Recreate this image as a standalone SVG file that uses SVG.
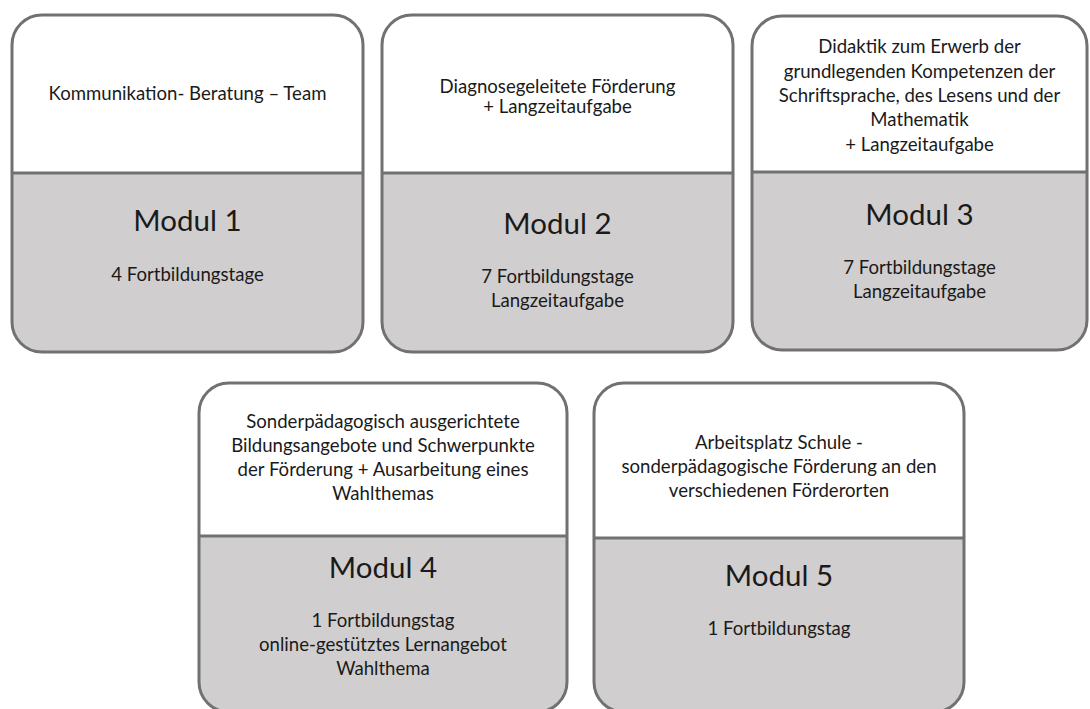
<svg xmlns="http://www.w3.org/2000/svg" width="1090" height="709" viewBox="0 0 1090 709">
<style>
.top{fill:#ffffff;}
.bot{fill:#d0cece;}
.frame{fill:none;stroke:#717171;stroke-width:3;}
.div{stroke:#717171;stroke-width:3;}
text{font-family:Lato,"Liberation Sans",sans-serif;fill:#1a1a1a;text-anchor:middle;}
.t{font-size:18.6px;}
.m{font-size:29.5px;}
</style>
<rect width="1090" height="709" fill="#ffffff"/>
<g id="connectors"></g>
<g id="modul1">
<path class="top" d="M12,173 V45 A30,30 0 0 1 42,15 H333 A30,30 0 0 1 363,45 V173 Z"/>
<path class="bot" d="M12,173 H363 V322 A30,30 0 0 1 333,352 H42 A30,30 0 0 1 12,322 Z"/>
<rect class="frame" x="12" y="15" width="351" height="337" rx="30"/>
<line class="div" x1="12" y1="173" x2="363" y2="173"/>
<text class="t" x="187.5" y="100">Kommunikation- Beratung – Team</text>
<text class="m" x="187.5" y="231">Modul 1</text>
<text class="t" x="187.5" y="281">4 Fortbildungstage</text>
</g>
<g id="modul2">
<path class="top" d="M382,173 V45 A30,30 0 0 1 412,15 H703 A30,30 0 0 1 733,45 V173 Z"/>
<path class="bot" d="M382,173 H733 V322 A30,30 0 0 1 703,352 H412 A30,30 0 0 1 382,322 Z"/>
<rect class="frame" x="382" y="15" width="351" height="337" rx="30"/>
<line class="div" x1="382" y1="173" x2="733" y2="173"/>
<text class="t" x="557.5" y="93">Diagnosegeleitete Förderung</text>
<text class="t" x="557.5" y="113">+ Langzeitaufgabe</text>
<text class="m" x="557.5" y="234">Modul 2</text>
<text class="t" x="557.5" y="283">7 Fortbildungstage</text>
<text class="t" x="557.5" y="307">Langzeitaufgabe</text>
</g>
<g id="modul3">
<path class="top" d="M752,172 V46 A30,30 0 0 1 782,16 H1057 A30,30 0 0 1 1087,46 V172 Z"/>
<path class="bot" d="M752,172 H1087 V320 A30,30 0 0 1 1057,350 H782 A30,30 0 0 1 752,320 Z"/>
<rect class="frame" x="752" y="16" width="335" height="334" rx="30"/>
<line class="div" x1="752" y1="172" x2="1087" y2="172"/>
<text class="t" x="919.5" y="53">Didaktik zum Erwerb der</text>
<text class="t" x="919.5" y="78">grundlegenden Kompetenzen der</text>
<text class="t" x="919.5" y="102">Schriftsprache, des Lesens und der</text>
<text class="t" x="919.5" y="126">Mathematik</text>
<text class="t" x="919.5" y="151">+ Langzeitaufgabe</text>
<text class="m" x="919.5" y="225">Modul 3</text>
<text class="t" x="919.5" y="274">7 Fortbildungstage</text>
<text class="t" x="919.5" y="298">Langzeitaufgabe</text>
</g>
<g id="modul4">
<path class="top" d="M199,536 V413 A30,30 0 0 1 229,383 H537 A30,30 0 0 1 567,413 V536 Z"/>
<path class="bot" d="M199,536 H567 V682 A30,30 0 0 1 537,712 H229 A30,30 0 0 1 199,682 Z"/>
<rect class="frame" x="199" y="383" width="368" height="329" rx="30"/>
<line class="div" x1="199" y1="536" x2="567" y2="536"/>
<text class="t" x="383" y="428">Sonderpädagogisch ausgerichtete</text>
<text class="t" x="383" y="452">Bildungsangebote und Schwerpunkte</text>
<text class="t" x="383" y="476">der Förderung + Ausarbeitung eines</text>
<text class="t" x="383" y="500">Wahlthemas</text>
<text class="m" x="383" y="578">Modul 4</text>
<text class="t" x="383" y="627">1 Fortbildungstag</text>
<text class="t" x="383" y="651">online-gestütztes Lernangebot</text>
<text class="t" x="383" y="675">Wahlthema</text>
</g>
<g id="modul5">
<path class="top" d="M594,538 V413 A30,30 0 0 1 624,383 H934 A30,30 0 0 1 964,413 V538 Z"/>
<path class="bot" d="M594,538 H964 V682 A30,30 0 0 1 934,712 H624 A30,30 0 0 1 594,682 Z"/>
<rect class="frame" x="594" y="383" width="370" height="329" rx="30"/>
<line class="div" x1="594" y1="538" x2="964" y2="538"/>
<text class="t" x="779" y="449">Arbeitsplatz Schule -</text>
<text class="t" x="779" y="473">sonderpädagogische Förderung an den</text>
<text class="t" x="779" y="497">verschiedenen Förderorten</text>
<text class="m" x="779" y="586">Modul 5</text>
<text class="t" x="779" y="635">1 Fortbildungstag</text>
</g>
</svg>
